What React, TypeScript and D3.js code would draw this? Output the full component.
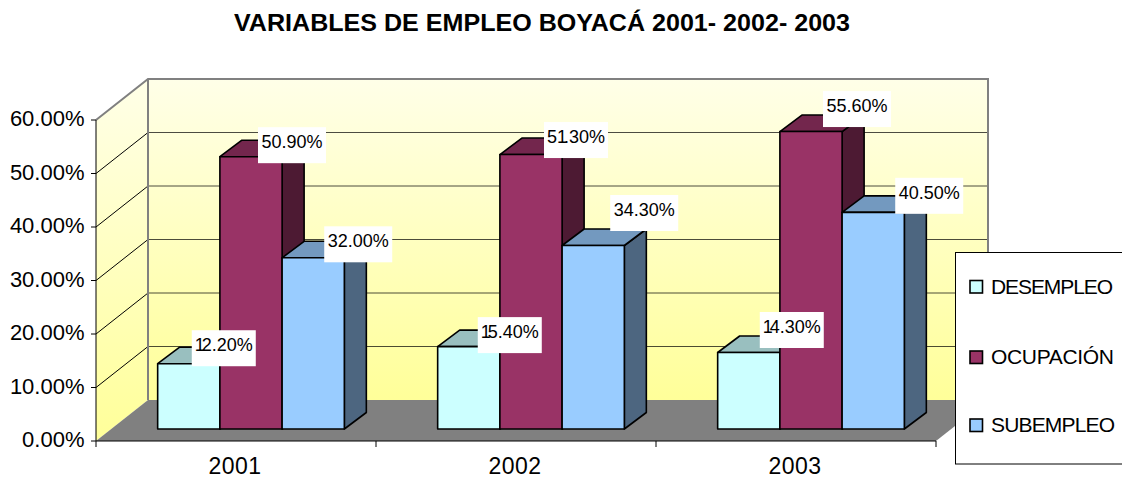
import React from "react";
import * as d3 from "d3";

const title = "VARIABLES DE EMPLEO BOYACÁ 2001- 2002- 2003";
const years = ["2001", "2002", "2003"];
const seriesNames = ["DESEMPLEO", "OCUPACIÓN", "SUBEMPLEO"];
const desempleo = [12.2, 15.4, 14.3];
const ocupacion = [50.9, 51.3, 55.6];
const subempleo = [32.0, 34.3, 40.5];
const yTicks = [0, 10, 20, 30, 40, 50, 60];

// Manually placed data-label centres relative to each bar's top-centre
const labelOffsetX = [[35, 41, 45], [41, 45, 51], [43, 46, 56]];
const labelOffsetY = [[-19, -15, -17], [-15, -18, -36], [-26, -26, -20]];

const seriesValues = [desempleo, ocupacion, subempleo];
const front = ["#CCFFFF", "#993366", "#99CCFF"];
const top = ["#99BFBF", "#73264D", "#7399BF"];
const side = ["#668080", "#4D1A33", "#4D6680"];
const legendY = [287, 357.5, 425.5];

const W = 1122, H = 479;
const x0 = 96, x1 = 936;
const depthX = 52, depthY = 41;
const barDX = 22, barDY = 16.5, insetX = 15, insetY = 12;

const y = d3.scaleLinear().domain([0, 60]).range([441, 120]);
const xBand = d3.scaleBand<string>().domain(years).range([x0, x1]);
const xBar = d3.scaleBand<string>().domain(seriesNames).range([0, xBand.bandwidth()]).paddingInner(0).paddingOuter(0.75);
const poly = (pts: number[][]) => pts.map((p) => p.join(",")).join(" ");
const font = "'Liberation Sans', Arial, sans-serif";
const fmt = (v: number) => v.toFixed(2) + "%";

export default function App() {
  const yTop = y(60), yZero = y(0);
  return (
    <svg width={W} height={H} viewBox={`0 0 ${W} ${H}`} style={{ position: "absolute", left: 0, top: 0, display: "block", background: "#fff" }} fontFamily={font}>
      <defs>
        <linearGradient id="wall" x1="0" y1="0" x2="0" y2="1">
          <stop offset="0" stopColor="#FFFFE8" />
          <stop offset="1" stopColor="#FFFF99" />
        </linearGradient>
      </defs>
      <text x={542} y={31} textAnchor="middle" fontSize={23} fontWeight="bold" fill="#000" textLength={616} lengthAdjust="spacingAndGlyphs">{title}</text>

      {/* walls and floor */}
      <polygon points={poly([[x0, yTop], [x0 + depthX, yTop - depthY], [x0 + depthX, yZero - depthY], [x0, yZero]])} fill="url(#wall)" />
      <rect x={x0 + depthX} y={yTop - depthY} width={x1 - x0} height={yZero - yTop} fill="url(#wall)" />
      <polygon points={poly([[x0, yZero], [x1, yZero], [x1 + depthX, yZero - depthY], [x0 + depthX, yZero - depthY]])} fill="#808080" />

      {yTicks.slice(1, -1).map((t) => (
        <g key={t} stroke="#000" strokeWidth={1}>
          <line x1={x0} y1={y(t)} x2={x0 + depthX} y2={y(t) - depthY} />
          <line x1={x0 + depthX} y1={y(t) - depthY} x2={x1 + depthX} y2={y(t) - depthY} strokeOpacity={0.7} />
        </g>
      ))}
      <polyline points={poly([[x0, yTop], [x0 + depthX, yTop - depthY], [x1 + depthX, yTop - depthY], [x1 + depthX, yZero - depthY]])} fill="none" stroke="#808080" strokeWidth={2} />
      <line x1={x0 + depthX} y1={yTop - depthY} x2={x0 + depthX} y2={yZero - depthY} stroke="#808080" strokeWidth={2} />

      {/* axes */}
      <line x1={x0} y1={yTop} x2={x0} y2={yZero} stroke="#000" strokeWidth={1} />
      <line x1={x0} y1={yZero} x2={x1} y2={yZero} stroke="#000" strokeWidth={1} />
      {yTicks.map((t) => (
        <g key={t}>
          <line x1={x0 - 5} y1={y(t)} x2={x0} y2={y(t)} stroke="#000" />
          <text x={84.5} y={y(t) + 6} textAnchor="end" fontSize={22} fill="#000">{fmt(t)}</text>
        </g>
      ))}
      {[...years, ""].map((yr, i) => {
        const tx = i < 3 ? xBand(yr)! : x1;
        return <line key={i} x1={tx} y1={yZero} x2={tx} y2={yZero + 6} stroke="#000" />;
      })}
      {years.map((yr) => (
        <text key={yr} x={xBand(yr)! + xBand.bandwidth() / 2 - 1} y={474} textAnchor="middle" fontSize={23} fill="#000" letterSpacing={0.5}>{yr}</text>
      ))}

      {/* bars */}
      {years.map((yr, c) => (
        <g key={yr}>
          {seriesNames.map((s, k) => {
            const v = seriesValues[k][c];
            const xl = xBand(yr)! + xBar(s)! + insetX;
            const w = xBar.bandwidth();
            const b = yZero - insetY;
            const t = y(v) - insetY;
            return (
              <g key={s} stroke="#000" strokeWidth={1.6} strokeLinejoin="round">
                <polygon points={poly([[xl + w, t], [xl + w + barDX, t - barDY], [xl + w + barDX, b - barDY], [xl + w, b]])} fill={side[k]} />
                <polygon points={poly([[xl, t], [xl + barDX, t - barDY], [xl + w + barDX, t - barDY], [xl + w, t]])} fill={top[k]} />
                <rect x={xl} y={t} width={w} height={b - t} fill={front[k]} />
              </g>
            );
          })}
        </g>
      ))}

      {/* data labels */}
      {years.map((yr, c) => (
        <g key={yr}>
          {seriesNames.map((s, k) => {
            const v = seriesValues[k][c];
            const xc = xBand(yr)! + xBar(s)! + insetX + xBar.bandwidth() / 2 + labelOffsetX[c][k];
            const yc = y(v) - insetY + labelOffsetY[c][k];
            const txt = fmt(v);
            const tight = txt.startsWith("1") ? "0 -3" : txt.startsWith("51") ? "0 0 -3" : undefined;
            const rw = tight ? 64 : 68;
            return (
              <g key={s}>
                <rect x={xc - rw / 2} y={yc - 14.5} width={rw} height={36} fill="#fff" />
                <text x={xc} y={yc + 6.5} textAnchor="middle" fontSize={18} fill="#000" dx={tight}>{txt}</text>
              </g>
            );
          })}
        </g>
      ))}

      {/* legend */}
      <rect x={955.5} y={252.5} width={180} height={211.5} fill="#fff" stroke="#000" strokeWidth={1} />
      {seriesNames.map((s, k) => (
        <g key={s}>
          <rect x={970} y={legendY[k] - 6.5} width={12.5} height={12.5} fill={front[k]} stroke="#000" strokeWidth={1.6} />
          <text x={991} y={legendY[k] + 6.5} fontSize={21} fill="#000" textLength={k === 1 ? 123 : k === 2 ? 124 : 122} lengthAdjust="spacing">{s}</text>
        </g>
      ))}
    </svg>
  );
}
